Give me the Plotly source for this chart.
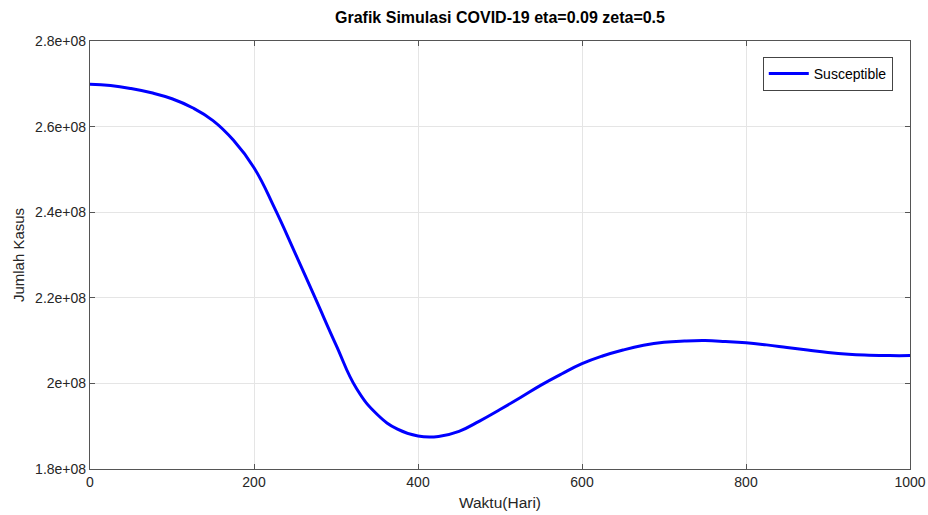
import plotly.graph_objects as go

days = [0, 25, 50, 75, 100, 125, 150, 175, 200, 225, 250, 275, 300, 325, 350, 375, 400, 425,
        450, 475, 500, 525, 550, 575, 600, 625, 650, 675, 700, 725, 750, 775, 800, 825, 850,
        875, 900, 925, 950, 975, 1000]
susceptible_e8 = [2.699, 2.696, 2.689, 2.679, 2.665, 2.644, 2.614, 2.568, 2.504, 2.410, 2.305,
                  2.198, 2.090, 1.988, 1.928, 1.893, 1.877, 1.876, 1.888, 1.912, 1.939, 1.967,
                  1.996, 2.022, 2.046, 2.064, 2.078, 2.089, 2.096, 2.099, 2.100, 2.098, 2.095,
                  2.090, 2.084, 2.078, 2.072, 2.068, 2.066, 2.065, 2.065]
susceptible = [v * 1e8 for v in susceptible_e8]

x_ticks = [0, 200, 400, 600, 800, 1000]
y_ticks = [1.8e8, 2.0e8, 2.2e8, 2.4e8, 2.6e8, 2.8e8]
y_ticklabels = ["1.8e+08", "2e+08", "2.2e+08", "2.4e+08", "2.6e+08", "2.8e+08"]

font_family = "Liberation Sans, Arial, sans-serif"
axis_col = "#555555"
text_col = "#262626"

fig = go.Figure()
fig.add_trace(go.Scatter(x=days, y=susceptible, mode="lines", name="Susceptible",
                         line=dict(color="#0000ff", width=3, shape="spline", smoothing=1.3)))

fig.update_layout(
    width=928, height=515,
    margin=dict(l=90, r=18, t=41, b=46, autoexpand=False),
    paper_bgcolor="white", plot_bgcolor="white",
    font=dict(family=font_family, size=14, color=text_col),
    title=dict(text="<b>Grafik Simulasi COVID-19 eta=0.09 zeta=0.5</b>",
               x=0.5, xref="paper", xanchor="center",
               y=1 - 17 / 515, yref="container", yanchor="middle",
               font=dict(size=16, color="#000000")),
    showlegend=True,
    legend=dict(x=0.979, y=0.963, xanchor="right", yanchor="top",
                bgcolor="white", bordercolor="#444444", borderwidth=1,
                font=dict(size=14, color="#000000"),
                itemwidth=40, tracegroupgap=0),
)
fig.update_xaxes(range=[0, 1000], tickvals=x_ticks, ticktext=[str(v) for v in x_ticks],
                 ticks="inside", ticklen=5, tickcolor=axis_col, automargin=False,
                 showline=True, linecolor=axis_col, linewidth=1.2, mirror="ticks",
                 showgrid=True, gridcolor="#e5e5e5", gridwidth=1, zeroline=False,
                 title=dict(text="Waktu(Hari)", font=dict(size=15.5, color=text_col), standoff=8),
                 tickfont=dict(size=14, color=text_col))
fig.update_yaxes(range=[1.8e8, 2.8e8], tickvals=y_ticks, ticktext=y_ticklabels,
                 ticks="inside", ticklen=5, tickcolor=axis_col, automargin=False,
                 showline=True, linecolor=axis_col, linewidth=1.2, mirror="ticks",
                 showgrid=True, gridcolor="#e5e5e5", gridwidth=1, zeroline=False,
                 title=dict(text="Jumlah Kasus", font=dict(size=15, color=text_col), standoff=6),
                 tickfont=dict(size=14, color=text_col))

fig.write_html("out.html")
